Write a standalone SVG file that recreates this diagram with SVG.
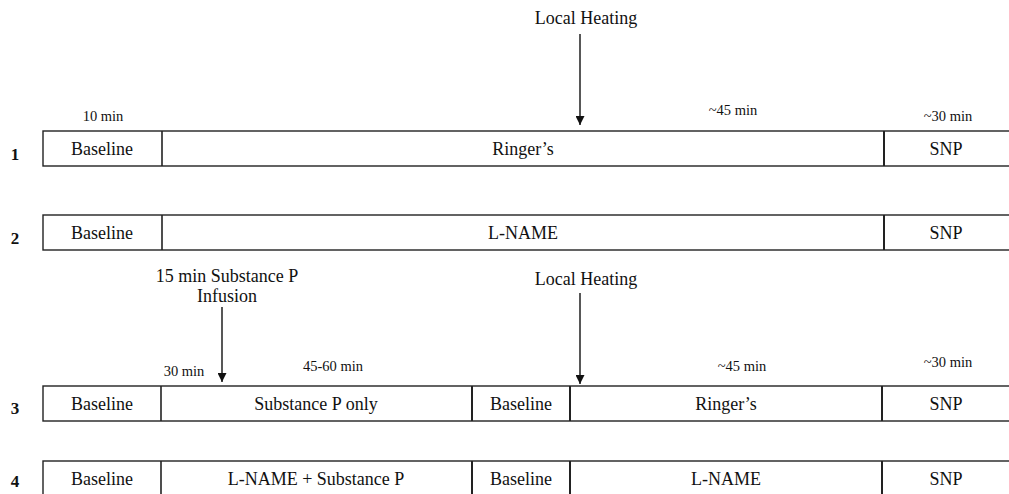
<svg xmlns="http://www.w3.org/2000/svg" width="1009" height="494" viewBox="0 0 1009 494">
<defs>
<style>
.box{fill:none;stroke:#222;stroke-width:1.4}
.div{stroke:#222;stroke-width:1.6}
.div2{stroke:#222;stroke-width:2}
.t{font-family:"Liberation Serif",serif;font-size:18px;fill:#111;text-anchor:middle}
.s{font-family:"Liberation Serif",serif;font-size:14.5px;fill:#111;text-anchor:middle}
.n{font-family:"Liberation Serif",serif;font-size:17px;font-weight:bold;fill:#111;text-anchor:middle}
.arr{stroke:#111;stroke-width:1.4;fill:none}
</style>
<marker id="ah" viewBox="0 0 10 10" refX="10" refY="5" markerWidth="9" markerHeight="9" markerUnits="userSpaceOnUse" orient="auto">
<path d="M0,0 L10,5 L0,10 z" fill="#111"/>
</marker>
</defs>
<rect width="1009" height="494" fill="#fff"/>

<g id="row1">
<text class="n" x="15" y="160">1</text>
<rect class="box" x="43" y="131" width="975" height="35"/>
<line class="div" x1="162" y1="131" x2="162" y2="166"/>
<line class="div2" x1="884" y1="131" x2="884" y2="166"/>
<text class="t" x="102" y="155">Baseline</text>
<text class="t" x="523" y="155">Ringer’s</text>
<text class="t" x="946" y="155">SNP</text>
<text class="s" x="103" y="121">10 min</text>
<text class="s" x="733" y="115">~45 min</text>
<text class="s" x="948" y="121">~30 min</text>
<text class="t" x="586" y="24">Local Heating</text>
</g>

<g id="row2">
<text class="n" x="15" y="244">2</text>
<rect class="box" x="43" y="215" width="975" height="35"/>
<line class="div" x1="162" y1="215" x2="162" y2="250"/>
<line class="div2" x1="884" y1="215" x2="884" y2="250"/>
<text class="t" x="102" y="239">Baseline</text>
<text class="t" x="523" y="239">L-NAME</text>
<text class="t" x="946" y="239">SNP</text>
</g>

<g id="row3">
<text class="n" x="15" y="414">3</text>
<rect class="box" x="43" y="386" width="975" height="35"/>
<line class="div" x1="161" y1="386" x2="161" y2="421"/>
<line class="div2" x1="472" y1="386" x2="472" y2="421"/>
<line class="div2" x1="570" y1="386" x2="570" y2="421"/>
<line class="div2" x1="882" y1="386" x2="882" y2="421"/>
<text class="t" x="102" y="410">Baseline</text>
<text class="t" x="316" y="410">Substance P only</text>
<text class="t" x="521" y="410">Baseline</text>
<text class="t" x="726" y="410">Ringer’s</text>
<text class="t" x="946" y="410">SNP</text>
<text class="s" x="184" y="376">30 min</text>
<text class="s" x="333" y="371">45-60 min</text>
<text class="s" x="742" y="371">~45 min</text>
<text class="s" x="948" y="367">~30 min</text>
<text class="t" x="227" y="282">15 min Substance P</text>
<text class="t" x="227" y="302">Infusion</text>
<text class="t" x="586" y="285">Local Heating</text>
</g>

<g id="row4">
<text class="n" x="15" y="487">4</text>
<rect class="box" x="43" y="461" width="975" height="40"/>
<line class="div" x1="161" y1="461" x2="161" y2="494"/>
<line class="div2" x1="472" y1="461" x2="472" y2="494"/>
<line class="div2" x1="570" y1="461" x2="570" y2="494"/>
<line class="div2" x1="882" y1="461" x2="882" y2="494"/>
<text class="t" x="102" y="485">Baseline</text>
<text class="t" x="316" y="485">L-NAME + Substance P</text>
<text class="t" x="521" y="485">Baseline</text>
<text class="t" x="726" y="485">L-NAME</text>
<text class="t" x="946" y="485">SNP</text>
</g>

<g id="connectors">
<line class="arr" x1="580" y1="34" x2="580" y2="125" marker-end="url(#ah)"/>
<line class="arr" x1="580" y1="293" x2="580" y2="384" marker-end="url(#ah)"/>
<line class="arr" x1="222" y1="307" x2="222" y2="382" marker-end="url(#ah)"/>
</g>
</svg>
